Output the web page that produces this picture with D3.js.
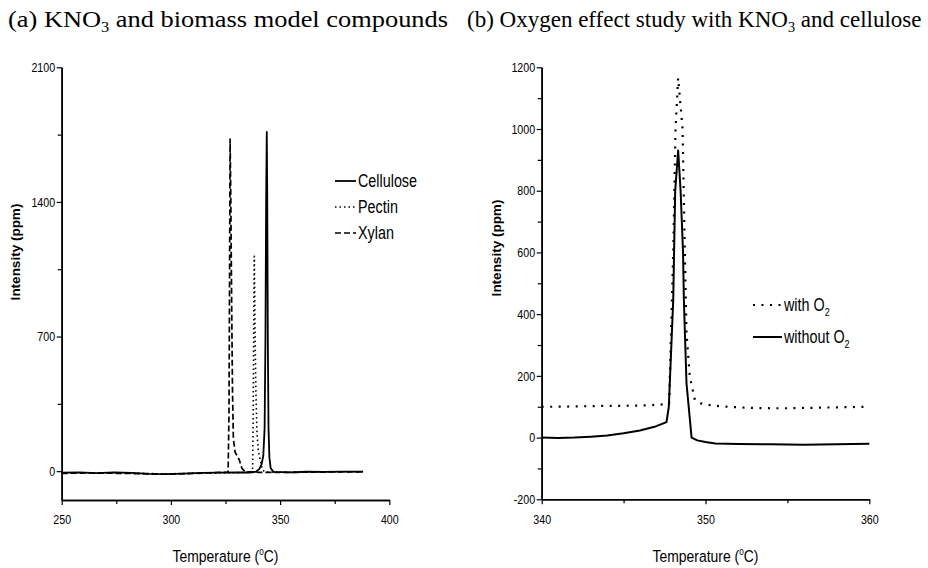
<!DOCTYPE html>
<html>
<head>
<meta charset="utf-8">
<script src="https://cdn.jsdelivr.net/npm/d3@7"></script>
<style>
  body { margin: 0; background: #fff; }
  svg { display: block; }
  .tick text { font-family: "Liberation Sans", Arial, sans-serif; font-size: 13px; }
</style>
</head>
<body>
<script>
// panel (a): temperature (C) vs intensity (ppm)
const cellulose = [
  [250, -8], [258, -6], [266, -10], [274, -6], [282, -9], [290, -14], [298, -15], [306, -13],
  [314, -9], [322, -8], [330, -6], [336, -7], [339, -3], [340.5, 12], [341.5, 35], [342.3, 80],
  [342.9, 220], [343.3, 700], [343.6, 1400], [343.9, 1764], [344.1, 1450], [344.4, 650],
  [344.7, 220], [345.1, 70], [345.7, 15], [347, -4], [355, -6], [362, -3], [370, -4],
  [378, -2], [388, -2]
];
const pectin = [
  [250, -10], [262, -8], [274, -9], [286, -12], [298, -14], [310, -11], [322, -9], [330, -8],
  [336, -6], [337.4, -2], [337.7, 300], [338.0, 900], [338.2, 1117], [338.5, 750],
  [338.9, 420], [339.4, 200], [340, 110], [340.9, 60], [341.8, 10], [343, -4], [350, -6],
  [365, -4], [380, -3], [388, -3]
];
const xylan = [
  [250, -12], [262, -9], [274, -11], [286, -13], [298, -16], [310, -12], [320, -8], [326.2, -5],
  [326.6, 300], [326.9, 1100], [327.1, 1726], [327.4, 1450], [327.8, 900], [328.2, 420],
  [328.6, 170], [329.4, 99], [331.3, 59], [332.5, 15], [334, -3], [340, -6], [350, -7],
  [365, -5], [380, -4], [388, -4]
];

// panel (b)
const withO2 = [
  [340, 100], [341, 100], [342, 101], [343, 102], [344, 103], [345, 103], [346, 104],
  [347, 106], [347.5, 108], [347.78, 111], [348.03, 600], [348.17, 1000], [348.33, 1165],
  [348.6, 1000], [348.74, 600], [348.84, 340], [349.04, 198], [349.35, 122], [349.7, 111],
  [350.3, 105], [351, 101], [352, 98], [353, 96], [354, 95], [355, 95], [356, 96],
  [357, 97], [358, 98], [359, 99], [360, 100]
];
const withoutO2 = [
  [340, 0], [341, -1], [342, 0], [343, 3], [344, 7], [345, 14], [346, 23], [347, 37],
  [347.62, 50], [347.76, 100], [348.03, 446], [348.15, 800], [348.33, 930], [348.48, 800],
  [348.63, 600], [348.68, 446], [348.84, 176], [349.15, 0], [349.5, -9], [350, -14],
  [350.6, -19], [352, -21], [354, -22], [356, -23], [358, -22], [360, -20]
];

const legendA = ["Cellulose", "Pectin", "Xylan"];
const legendB = ["with O", "without O"];

const xTicksA = [250, 300, 350, 400], xMinorA = [275, 325, 375];
const yTicksA = [0, 700, 1400, 2100], yMinorA = [350, 1050, 1750];
const xTicksB = [340, 350, 360], xMinorB = [345, 355];
const yTicksB = [-200, 0, 200, 400, 600, 800, 1000, 1200];
const yMinorB = [-100, 100, 300, 500, 700, 900, 1100];

const W = 928, H = 568;
const sans = '"Liberation Sans", Arial, sans-serif';
const squeeze = "scale(0.82,1)"; // no narrow font installed, so condense Arial-like text

const svg = d3.select("body").
append("svg").
attr("width", W).
attr("height", H).
style("background", "#fff");

function narrowText(parent, x, y, size, anchor) {
  return parent.append("g").
  attr("transform", "translate(" + x + "," + y + ") " + squeeze).
  append("text").
  attr("text-anchor", anchor || "start").
  style("font-family", sans).
  style("font-size", size + "px");
}

function drawPanel(p) {
  const x = d3.scaleLinear().domain(p.xDomain).range(p.xRange);
  const y = d3.scaleLinear().domain(p.yDomain).range(p.yRange);
  const g = svg.append("g");

  // minor ticks first, then the labelled axis on top
  g.append("g").
  attr("transform", "translate(0," + p.yRange[0] + ")").
  call(d3.axisBottom(x).tickValues(p.xMinor).tickSize(4).tickSizeOuter(0).tickFormat(""));
  g.append("g").
  attr("transform", "translate(" + p.xRange[0] + ",0)").
  call(d3.axisLeft(y).tickValues(p.yMinor).tickSize(4).tickSizeOuter(0).tickFormat(""));

  g.append("g").
  attr("transform", "translate(0," + p.yRange[0] + ")").
  call(d3.axisBottom(x).tickValues(p.xTicks).tickSize(5).tickSizeOuter(0).tickPadding(10).tickFormat(d => String(d)));
  g.append("g").
  attr("transform", "translate(" + p.xRange[0] + ",0)").
  call(d3.axisLeft(y).tickValues(p.yTicks).tickSize(5).tickSizeOuter(0).tickPadding(3).tickFormat(d => String(d)));

  g.selectAll(".domain").attr("stroke-width", 1.6);
  g.selectAll(".tick line").attr("stroke-width", 1.2);
  g.selectAll(".tick text").attr("transform", squeeze);

  const line = d3.line().x(d => x(d[0])).y(d => y(d[1]));

  p.series.forEach(s => {
    g.append("path").
    datum(s.data).
    attr("d", line).
    attr("fill", "none").
    attr("stroke", "#000").
    attr("stroke-width", s.width).
    attr("stroke-dasharray", s.dash).
    attr("stroke-linejoin", "round");
  });

  // legend
  p.legend.forEach((lab, i) => {
    const s = p.series[i];
    const ly = p.legendY + i * p.legendStep;
    g.append("line").
    attr("x1", p.legendX).attr("x2", p.legendX + p.legendLen).
    attr("y1", ly).attr("y2", ly).
    attr("stroke", "#000").
    attr("stroke-width", s.width).
    attr("stroke-dasharray", s.dash);
    const t = narrowText(g, p.legendX + p.legendLen + 2, ly + 6, 17.5).text(lab);
    if (p.legendSub) {
      t.append("tspan").attr("dy", 5).style("font-size", "11px").text("2");
    }
  });

  // y label
  g.append("text").
  attr("transform", "translate(" + p.yLabelX + "," + p.yLabelY + ") rotate(-90)").
  attr("text-anchor", "middle").
  style("font-family", sans).
  style("font-weight", "bold").
  style("font-size", "13.5px").
  text("Intensity (ppm)");

  // x label
  const xl = narrowText(g, (p.xRange[0] + p.xRange[1]) / 2, 562, 17, "middle");
  xl.append("tspan").text("Temperature (");
  xl.append("tspan").attr("dy", -7).style("font-size", "10px").text("o");
  xl.append("tspan").attr("dy", 7).text("C)");

  // title
  const tt = svg.append("text").
  attr("x", p.titleX).
  attr("y", 27).
  style("font-family", "'Liberation Serif', 'Times New Roman', serif").
  style("font-size", p.titleSize + "px");
  if (p.titleLen) tt.attr("textLength", p.titleLen).attr("lengthAdjust", "spacingAndGlyphs");
  p.title.forEach(part => {
    const sp = tt.append("tspan").text(part.t);
    if (part.sub) sp.attr("dy", 5).style("font-size", (p.titleSize * 0.62) + "px");
    if (part.after) sp.attr("dy", -5);
  });
}

drawPanel({
  xDomain: [250, 400], xRange: [61.7, 389.3],
  yDomain: [-150, 2100], yRange: [500, 67.3],
  xTicks: xTicksA, xMinor: xMinorA, yTicks: yTicksA, yMinor: yMinorA,
  series: [
    { data: cellulose, width: 1.8, dash: null },
    { data: pectin, width: 1.6, dash: "1.5,3" },
    { data: xylan, width: 1.7, dash: "6,3" }
  ],
  legend: legendA, legendSub: false,
  legendX: 335, legendLen: 21, legendY: 181, legendStep: 26,
  yLabelX: 20, yLabelY: 252,
  titleX: 8, titleSize: 23, titleLen: 440,
  title: [{ t: "(a) KNO" }, { t: "3", sub: true }, { t: " and biomass model compounds", after: true }]
});

drawPanel({
  xDomain: [340, 360], xRange: [541.7, 869.3],
  yDomain: [-200, 1200], yRange: [499.3, 67.3],
  xTicks: xTicksB, xMinor: xMinorB, yTicks: yTicksB, yMinor: yMinorB,
  series: [
    { data: withO2, width: 2.2, dash: "2,6.5" },
    { data: withoutO2, width: 2, dash: null }
  ],
  legend: legendB, legendSub: true,
  legendX: 753, legendLen: 29, legendY: 305, legendStep: 32,
  yLabelX: 501, yLabelY: 248,
  titleX: 467, titleSize: 23, titleLen: null,
  title: [{ t: "(b) Oxygen effect study with KNO" }, { t: "3", sub: true }, { t: " and cellulose", after: true }]
});
</script>
</body>
</html>
